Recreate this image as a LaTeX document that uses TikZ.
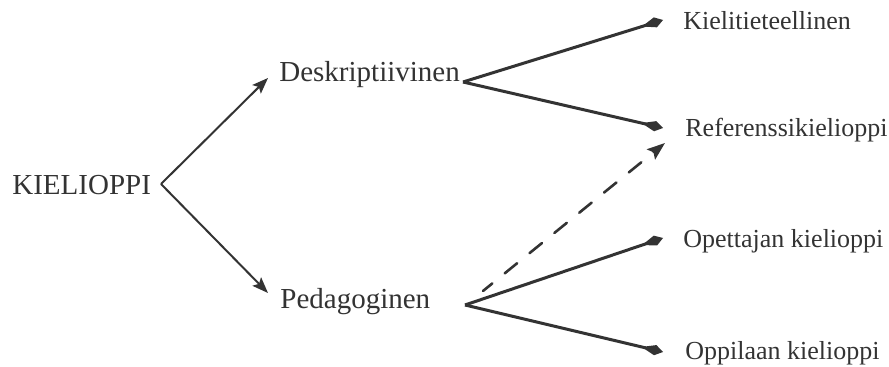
\documentclass[tikz,border=0pt]{standalone}
\usepackage{fontspec}
\setmainfont{Liberation Serif}
\usetikzlibrary{arrows.meta}
\definecolor{ink}{HTML}{333333}
\tikzset{
  lbl/.style={inner sep=0pt, anchor=base west, text=ink, font=\fontsize{14.5}{17}\selectfont},
  leaf/.style={inner sep=0pt, anchor=base west, text=ink, font=\fontsize{13}{15}\selectfont},
  split/.style={draw=ink, line width=1pt, -{Stealth[length=8pt, width=6pt, inset=1.6pt]}},
  branch/.style={draw=ink, line width=1.5pt, -{Kite[length=11pt, width=5.2pt, inset=7pt]}},
  hint/.style={draw=ink, line width=1.3pt, line cap=round, dash pattern=on 8pt off 8pt, dash phase=2pt,
    -{Stealth[length=9pt, width=6.5pt, inset=1.6pt]}}
}
\begin{document}
\begin{tikzpicture}[x=0.5pt, y=-0.5pt]
\useasboundingbox[fill=white] (0,0) rectangle (889,367);

% labels
\node[lbl] (kieli) at (12,195) {KIELIOPPI};
\node[lbl] (desk) at (279,82) {Deskriptiivinen};
\node[lbl] (peda) at (280,309) {Pedagoginen};
\node[leaf] (tiet) at (683,30) {Kielitieteellinen};
\node[leaf] (ref) at (685,137) {Referenssikielioppi};
\node[leaf] (opet) at (683,248) {Opettajan kielioppi};
\node[leaf] (oppi) at (685,360) {Oppilaan kielioppi};

% fork points
\coordinate (kv) at (161,184);
\coordinate (dv) at (463,82);
\coordinate (pv) at (465,305);

% first split
\draw[split] (kv) -- ([shift={(-11,-4)}]desk.base west);
\draw[split] (kv) -- ([shift={(-12,-16)}]peda.base west);

% descriptive branches
\draw[branch] (dv) -- ([shift={(-20,-10)}]tiet.base west);
\draw[branch] (dv) -- ([shift={(-22,-9)}]ref.base west);

% pedagogical branches
\draw[branch] (pv) -- ([shift={(-20,-10)}]opet.base west);
\draw[branch] (pv) -- ([shift={(-22,-8)}]oppi.base west);
\draw[hint] ([shift={(18,-14)}]pv) -- ([shift={(-20,6)}]ref.base west);
\end{tikzpicture}
\end{document}
